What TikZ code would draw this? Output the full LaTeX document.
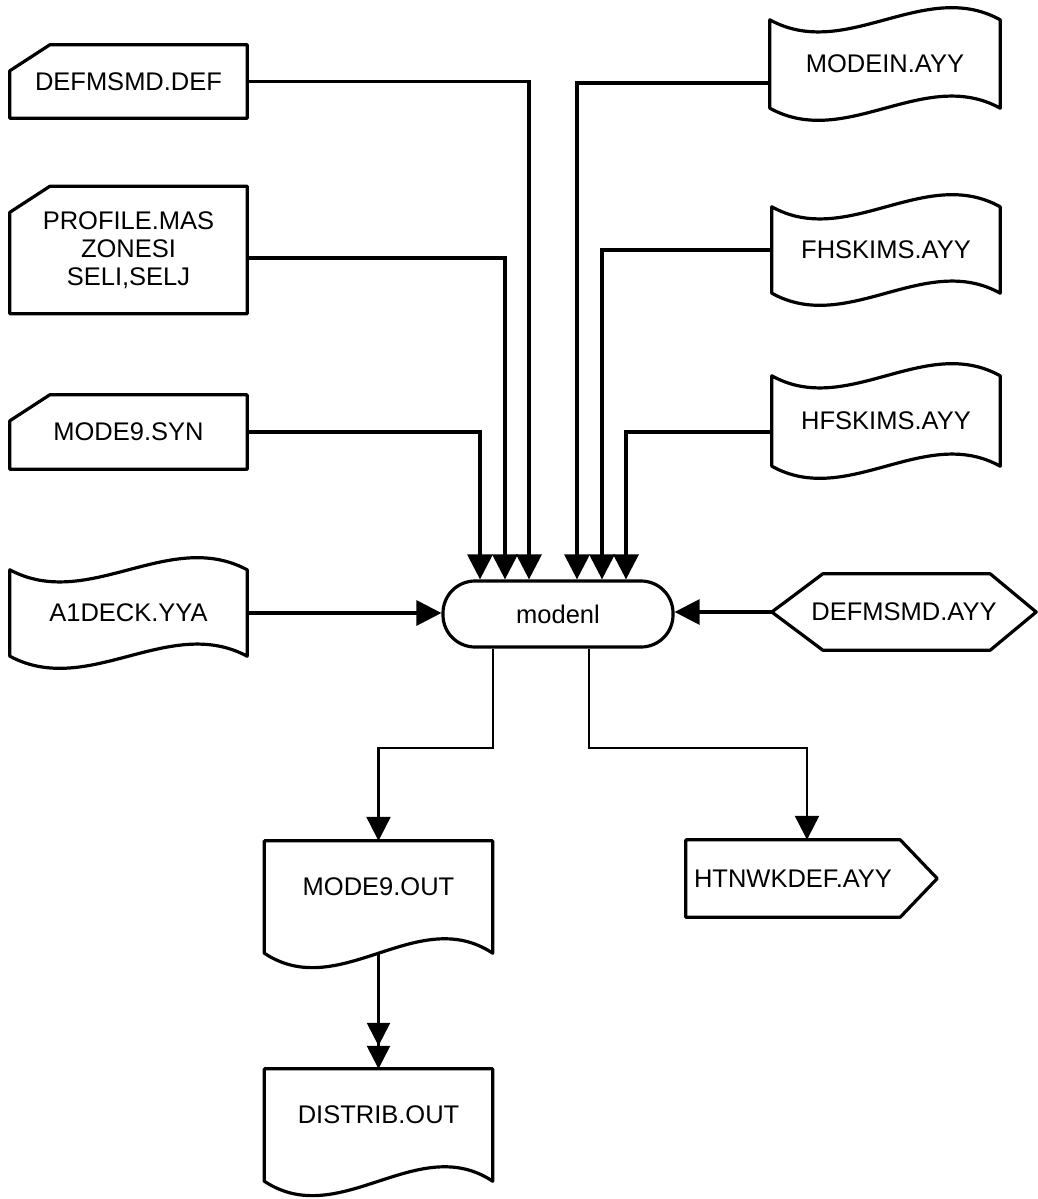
\documentclass[tikz,border=0pt]{standalone}
\usepackage{fontspec}
\setmainfont{Liberation Sans}
\usepackage{tikz}
\usetikzlibrary{arrows.meta, calc, positioning}
\tikzset{
  file/.style={inner sep=0pt, align=center, font=\fontsize{25.5}{28}\selectfont},
  outline/.style={line width=3.2pt, line join=round},
  flow/.style={line width=3.2pt, -{Triangle[length=25pt,width=25pt]}},
  outflow/.style={line width=2.2pt, -{Triangle[length=24pt,width=24pt]}},
}
\newcommand{\cardpath}[1]{\draw[outline] (#1.south west) -- ([yshift=-26pt]#1.north west) -- ([xshift=40pt]#1.north west) -- (#1.north east) -- (#1.south east) -- cycle;}
\newcommand{\tapepath}[1]{\draw[outline] (#1.north west) .. controls ($(#1.north west)!0.33!(#1.north east)+(0,42)$) and ($(#1.north west)!0.67!(#1.north east)+(0,-42)$) .. (#1.north east) -- (#1.south east) .. controls ($(#1.south west)!0.67!(#1.south east)+(0,-42)$) and ($(#1.south west)!0.33!(#1.south east)+(0,42)$) .. (#1.south west) -- cycle;}
\newcommand{\docpath}[1]{\draw[outline] (#1.north west) -- (#1.north east) -- ([yshift=-20pt]#1.south east) .. controls ($(#1.south west)!0.67!(#1.south east)+(0,-30)$) and ($(#1.south west)!0.33!(#1.south east)+(0,70)$) .. ([yshift=-20pt]#1.south west) -- cycle;}
\newcommand{\hexpath}[1]{\draw[outline] (#1.west) -- ([xshift=51pt]#1.north west) -- ([xshift=-46pt]#1.north east) -- (#1.east) -- ([xshift=-46pt]#1.south east) -- ([xshift=51pt]#1.south west) -- cycle;}
\newcommand{\tagpath}[1]{\draw[outline] (#1.north west) -- (#1.north east) -- ([xshift=37pt]#1.east) -- (#1.south east) -- (#1.south west) -- cycle;}

\begin{document}
\begin{tikzpicture}[x=1pt, y=-1pt]
\useasboundingbox (0,0) rectangle (1037,1199);
\node[file, minimum width=237pt, minimum height=73pt] (defdef) at (128.5,81.5) {DEFMSMD.DEF};
\node[file, minimum width=237pt, minimum height=127pt] (profile) at (128.5,250) {PROFILE.MAS\\ZONESI\\SELI,SELJ};
\node[file, minimum width=237pt, minimum height=74pt] (syn) at (128.5,432) {MODE9.SYN};
\node[file, minimum width=237pt, minimum height=86pt] (deck) at (128.5,613) {A1DECK.YYA};
\node[file, minimum width=230pt, minimum height=88pt] (modein) at (885,64) {MODEIN.AYY};
\node[file, minimum width=228pt, minimum height=86pt] (fhskims) at (886,250) {FHSKIMS.AYY};
\node[file, minimum width=228pt, minimum height=90pt] (hfskims) at (886,421) {HFSKIMS.AYY};
\node[file, minimum width=264pt, minimum height=76pt] (defayy) at (904,612) {DEFMSMD.AYY};
\node[file, draw, outline, rounded corners=32pt, minimum width=230pt, minimum height=66pt] (modenl) at (558,614) {modenl};
\node[file, minimum width=228pt, minimum height=92pt] (mode9out) at (378.5,887) {MODE9.OUT};
\node[file, minimum width=228pt, minimum height=92pt] (distrib) at (378.5,1115) {DISTRIB.OUT};
\node[file, minimum width=214pt, minimum height=77pt] (htnwk) at (793,878.5) {HTNWKDEF.AYY};
\cardpath{defdef}
\cardpath{profile}
\cardpath{syn}
\tapepath{deck}
\tapepath{modein}
\tapepath{fhskims}
\tapepath{hfskims}
\hexpath{defayy}
\docpath{mode9out}
\docpath{distrib}
\tagpath{htnwk}
\draw[flow] (defdef.east) -| ([xshift=-29pt]modenl.north);
\draw[flow] ([yshift=-8pt]profile.east) -| ([xshift=-53pt]modenl.north);
\draw[flow] (syn.east) -| ([xshift=-78pt]modenl.north);
\draw[flow] ([yshift=-19pt]modein.west) -| ([xshift=19pt]modenl.north);
\draw[flow] (fhskims.west) -| ([xshift=44pt]modenl.north);
\draw[flow] ([yshift=-11pt]hfskims.west) -| ([xshift=68pt]modenl.north);
\draw[flow] (deck.east) -- (deck.east -| modenl.west);
\draw[flow] (defayy.west) -- (defayy.west -| modenl.east);
\draw[outflow] ([xshift=-65pt]modenl.south) -- ++(0,99) -| (mode9out.north);
\draw[outflow] ([xshift=31pt]modenl.south) -- ++(0,99) -| ([xshift=14pt]htnwk.north);
\draw[line width=2.6pt, -{Triangle[length=23pt,width=23pt] Triangle[length=23pt,width=23pt]}] ([yshift=-20pt]mode9out.south) -- (distrib.north);
\end{tikzpicture}
\end{document}
